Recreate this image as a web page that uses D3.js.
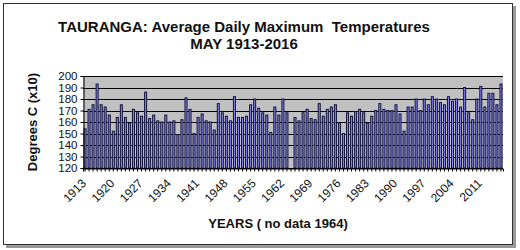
<!DOCTYPE html>
<html>
<head>
<meta charset="utf-8">
<script src="https://cdn.jsdelivr.net/npm/d3@7"></script>
<style>
  body { margin: 0; background: #fff; }
  svg { display: block; font-family: "Liberation Sans", Arial, sans-serif; }
</style>
</head>
<body>
<svg id="chart" width="520" height="250"></svg>
<script>
// May average daily max temps, degrees C x10 (1964 missing)
var years = d3.range(1913, 2017);
var temps = [
  154, 171, 175, 193, 175, 173, 166, 152, 164, 175,
  164, 159, 171, 168, 165, 186, 163, 166, 161, 160,
  166, 160, 161, 149, 162, 181, 171, 150, 164, 167,
  161, 160, 153, 176, 168, 165, 161, 182, 164, 164,
  165, 175, 180, 172, 168, 166, 151, 173, 166, 180,
  168, null, 164, 161, 168, 171, 163, 162, 176, 165,
  171, 173, 175, 159, 150, 168, 165, 169, 171, 168,
  159, 165, 170, 176, 171, 170, 170, 175, 167, 152,
  173, 173, 180, 170, 180, 175, 182, 180, 177, 175,
  182, 178, 180, 173, 190, 168, 162, 180, 191, 173,
  185, 185, 175, 193
];
var yTicks = [120, 130, 140, 150, 160, 170, 180, 190, 200];
var xLabelYears = [1913, 1920, 1927, 1934, 1941, 1948, 1955, 1962, 1969, 1976, 1983, 1990, 1997, 2004, 2011];

function drawChart() {
  var svg = d3.select('#chart');

  // frame with shadow
  svg.append('rect')
     .attr('x', 6).attr('y', 6).attr('width', 510).attr('height', 242)
     .attr('fill', '#9a9a9a');
  svg.append('rect')
     .attr('x', 3.5).attr('y', 3.5).attr('width', 509).attr('height', 241)
     .attr('fill', '#fff').attr('stroke', '#333').attr('stroke-width', 1);

  var pLeft = 83, pRight = 503, pTop = 76, pBottom = 168;

  var x = d3.scaleBand()
      .domain(years)
      .range([pLeft, pRight])
      .padding(0);
  var y = d3.scaleLinear()
      .domain([120, 200])
      .range([pBottom, pTop]);

  // plot area
  svg.append('rect')
     .attr('x', pLeft).attr('y', pTop)
     .attr('width', pRight - pLeft).attr('height', pBottom - pTop)
     .attr('fill', '#c0c0c0');

  // gridlines
  svg.append('g')
     .selectAll('line')
     .data(yTicks)
     .enter()
     .append('line')
     .attr('x1', pLeft).attr('x2', pRight)
     .attr('y1', d => Math.round(y(d)) + 0.5)
     .attr('y2', d => Math.round(y(d)) + 0.5)
     .attr('stroke', '#000').attr('stroke-width', 1);

  // bars
  var bw = x.bandwidth() * 0.5;
  svg.append('g')
     .selectAll('rect')
     .data(years.map((yr, i) => ({year: yr, v: temps[i]})).filter(d => d.v != null))
     .enter()
     .append('rect')
     .attr('x', d => x(d.year) + (x.bandwidth() - bw) / 2)
     .attr('y', d => y(d.v))
     .attr('width', bw)
     .attr('height', d => pBottom - y(d.v))
     .attr('fill', '#8383f0')
     .attr('stroke', '#14143c')
     .attr('stroke-width', 1);

  // y axis
  var yAxis = d3.axisLeft(y).tickValues(yTicks).tickSize(3).tickPadding(3);
  var gy = svg.append('g')
     .attr('transform', 'translate(' + (pLeft + 0.5) + ',0)')
     .call(yAxis);
  gy.select('.domain').attr('stroke', '#000');
  gy.selectAll('text')
     .attr('font-size', '10.5px')
     .attr('fill', '#111')
     .attr('transform', 'scale(1.1,1.05)')
     .attr('x', -6 / 1.1);

  // x axis: tick per year, no built-in labels
  var xAxis = d3.axisBottom(x).tickSize(3).tickFormat('');
  var gx = svg.append('g')
     .attr('transform', 'translate(0,' + (pBottom + 0.5) + ')')
     .call(xAxis);
  gx.select('.domain').attr('stroke', '#000');

  // slanted year labels, every 7 years
  svg.append('g')
     .selectAll('g')
     .data(xLabelYears)
     .enter()
     .append('g')
     .attr('transform', d => 'translate(' + (x(d) + x.bandwidth() / 2 + 2) + ',' + (pBottom + 16) + ') rotate(-45)')
     .append('text')
     .attr('text-anchor', 'end')
     .attr('font-size', '12px')
     .attr('fill', '#111')
     .text(d => d);

  // titles
  svg.append('text')
     .attr('x', 244).attr('y', 32)
     .attr('text-anchor', 'middle')
     .attr('font-size', '15px').attr('font-weight', 'bold')
     .attr('fill', '#111')
     .attr('xml:space', 'preserve')
     .text('TAURANGA: Average Daily Maximum  Temperatures');
  svg.append('text')
     .attr('x', 244).attr('y', 49)
     .attr('text-anchor', 'middle')
     .attr('font-size', '15px').attr('font-weight', 'bold')
     .attr('fill', '#111')
     .text('MAY 1913-2016');

  svg.append('text')
     .attr('transform', 'translate(37,122) rotate(-90)')
     .attr('text-anchor', 'middle')
     .attr('font-size', '13px').attr('font-weight', 'bold')
     .attr('fill', '#111')
     .text('Degrees C (x10)');

  svg.append('text')
     .attr('x', 278).attr('y', 228)
     .attr('text-anchor', 'middle')
     .attr('font-size', '13px').attr('font-weight', 'bold')
     .attr('fill', '#111')
     .text('YEARS ( no data 1964)');
}

drawChart();
</script>
</body>
</html>
